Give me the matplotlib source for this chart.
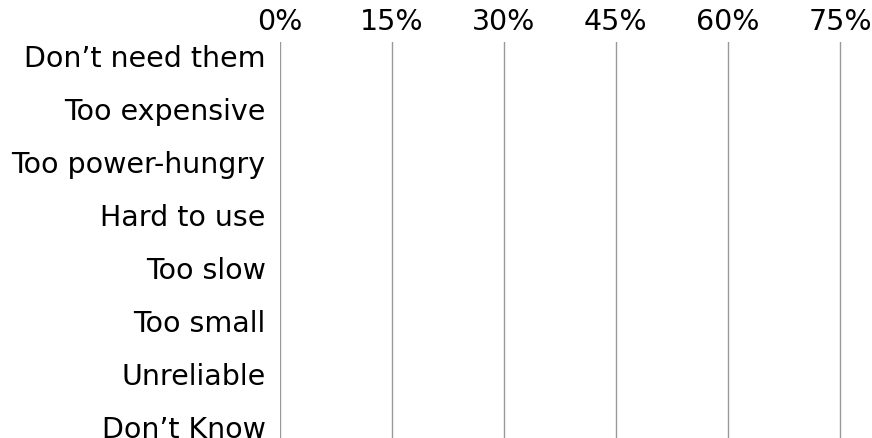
import matplotlib
matplotlib.use("Agg")
import matplotlib.pyplot as plt

# survey categories (top to bottom) and their shares, in %
categories = ["Don\u2019t need them", "Too expensive", "Too power-hungry", "Hard to use",
              "Too slow", "Too small", "Unreliable", "Don\u2019t Know"]
shares = [0, 0, 0, 0, 0, 0, 0, 0]
x_ticks = [0, 15, 30, 45, 60, 75]
x_tick_labels = ["0%", "15%", "30%", "45%", "60%", "75%"]


def main():
    fig = plt.figure(figsize=(8.72, 4.38), dpi=100)
    # axes placed in pixel terms: left 279.5, right 842, top 42, bottom 438
    ax = fig.add_axes([279.5 / 872, 0, (842 - 279.5) / 872, (438 - 42) / 438])

    ypos = list(range(len(categories)))
    ax.barh(ypos, shares, height=0.7, color="#4a7ebb")

    ax.set_xlim(0, 75.27)
    ax.set_ylim(7.21, -0.26)

    ax.set_yticks(ypos)
    ax.set_yticklabels(categories, fontsize=20.5)
    ax.set_xticks(x_ticks)
    ax.set_xticklabels(x_tick_labels, fontsize=20.5)
    ax.xaxis.tick_top()
    ax.tick_params(axis="both", length=0)
    ax.tick_params(axis="x", pad=4)
    ax.tick_params(axis="y", pad=10)

    for s in ax.spines.values():
        s.set_visible(False)
    ax.grid(axis="x", color="#999999", linewidth=1)
    ax.set_axisbelow(True)

    fig.savefig("out.png", dpi=100)


main()
